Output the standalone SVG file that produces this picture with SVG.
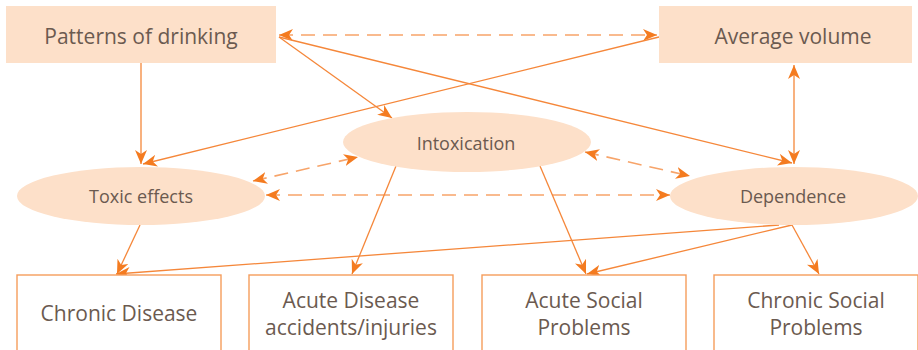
<svg xmlns="http://www.w3.org/2000/svg" width="918" height="350" viewBox="0 0 918 350">
<style>
.box{fill:#fde0c9;stroke:none}
.ell{fill:#fde0c9;stroke:none}
.out{fill:#ffffff;stroke:#f59d5c;stroke-width:1.4}
.t{font-family:"Open Sans","Noto Sans",sans-serif;fill:#6b5a50;text-anchor:middle}
.big{font-size:21px}
.mid{font-size:18px}
.low{font-size:21px}
.s{fill:none;stroke:#f5873a;stroke-width:1.3}
.d{fill:none;stroke:#f7a46a;stroke-width:1.6;stroke-dasharray:14 8}
</style>
<defs>
<marker id="ah" viewBox="0 0 14 12" refX="14" refY="6" markerWidth="14" markerHeight="12" markerUnits="userSpaceOnUse" orient="auto-start-reverse">
<path d="M0,0 L14,6 L0,12 L4,6 z" fill="#f47b20"/>
</marker>
</defs>
<g id="connectors">
<line class="d" x1="279" y1="35" x2="657" y2="35" marker-start="url(#ah)" marker-end="url(#ah)"/>
<line class="s" x1="141" y1="63" x2="141" y2="164" marker-end="url(#ah)"/>
<line class="s" x1="279" y1="37" x2="392" y2="118" marker-end="url(#ah)"/>
<line class="s" x1="279" y1="37" x2="792" y2="163" marker-end="url(#ah)"/>
<line class="s" x1="659" y1="37" x2="143" y2="164" marker-end="url(#ah)"/>
<line class="s" x1="794" y1="65" x2="794" y2="164" marker-start="url(#ah)" marker-end="url(#ah)"/>
<line class="d" x1="253" y1="181" x2="358" y2="157" marker-start="url(#ah)" marker-end="url(#ah)"/>
<line class="d" x1="266" y1="195" x2="670" y2="195" marker-start="url(#ah)" marker-end="url(#ah)"/>
<line class="d" x1="585" y1="152" x2="690" y2="176" marker-start="url(#ah)" marker-end="url(#ah)"/>
<line class="s" x1="140" y1="225" x2="117" y2="274" marker-end="url(#ah)"/>
<line class="s" x1="396" y1="166" x2="352" y2="274" marker-end="url(#ah)"/>
<line class="s" x1="540" y1="166" x2="586" y2="274" marker-end="url(#ah)"/>
<line class="s" x1="779" y1="225" x2="116" y2="274" marker-end="url(#ah)"/>
<line class="s" x1="792" y1="225" x2="587" y2="274" marker-end="url(#ah)"/>
<line class="s" x1="792" y1="225" x2="819" y2="274" marker-end="url(#ah)"/>
</g>
<g id="patterns">
<rect class="box" x="6" y="6" width="270" height="57"/>
<text class="t big" x="141" y="44">Patterns of drinking</text>
</g>
<g id="average">
<rect class="box" x="659" y="6" width="253" height="57"/>
<text class="t big" x="793" y="44">Average volume</text>
</g>
<g id="intoxication">
<ellipse class="ell" cx="467" cy="142" rx="124" ry="30"/>
<text class="t mid" x="466" y="150">Intoxication</text>
</g>
<g id="toxic">
<ellipse class="ell" cx="141" cy="196" rx="124" ry="29"/>
<text class="t mid" x="141" y="203">Toxic effects</text>
</g>
<g id="dependence">
<ellipse class="ell" cx="794" cy="196" rx="124" ry="29"/>
<text class="t mid" x="793" y="203">Dependence</text>
</g>
<g id="chronic-disease">
<rect class="out" x="17" y="275" width="204" height="80"/>
<text class="t low" x="119" y="321">Chronic Disease</text>
</g>
<g id="acute-disease">
<rect class="out" x="249" y="275" width="204" height="80"/>
<text class="t low" x="351" y="308">Acute Disease</text>
<text class="t low" x="351" y="335">accidents/injuries</text>
</g>
<g id="acute-social">
<rect class="out" x="482" y="275" width="204" height="80"/>
<text class="t low" x="584" y="308">Acute Social</text>
<text class="t low" x="584" y="335">Problems</text>
</g>
<g id="chronic-social">
<rect class="out" x="714" y="275" width="204" height="80"/>
<text class="t low" x="816" y="308">Chronic Social</text>
<text class="t low" x="816" y="335">Problems</text>
</g>
</svg>
